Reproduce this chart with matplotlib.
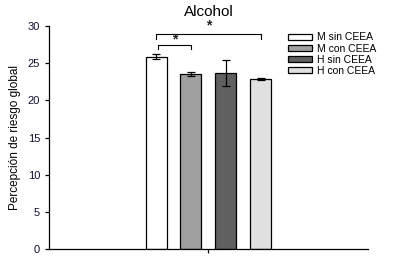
import matplotlib
matplotlib.use('Agg')
import matplotlib.pyplot as plt

plt.rcParams['font.family'] = ['Liberation Sans', 'DejaVu Sans']

# data
groups = ['M sin CEEA', 'M con CEEA', 'H sin CEEA', 'H con CEEA']
means = [25.9, 23.6, 23.7, 22.9]
errors = [0.4, 0.27, 1.75, 0.15]
colors = ['#ffffff', '#a0a0a0', '#606060', '#e0e0e0']

fig = plt.figure(figsize=(3.93, 2.63), dpi=100)
ax = fig.add_axes([0.1247, 0.053, 0.8115, 0.848])

xpos = range(len(groups))
bars = ax.bar(xpos, means, width=0.6, color=colors, edgecolor='black', linewidth=0.9,
              yerr=errors, capsize=3, error_kw=dict(elinewidth=0.9, capthick=0.9, ecolor='black'),
              label=groups)

ax.set_xlim(-3.06, 6.06)
ax.set_ylim(0, 30)
ax.set_yticks([0, 5, 10, 15, 20, 25, 30])
ax.set_xticks([1.5])
ax.set_xticklabels([''])
ax.tick_params(axis='both', direction='out', length=3, width=0.9, labelsize=8, colors='black')
ax.tick_params(axis='y', labelcolor='#101030')
for s in ['top', 'right']:
    ax.spines[s].set_visible(False)
for s in ['left', 'bottom']:
    ax.spines[s].set_linewidth(0.9)

ax.set_ylabel('Percepción de riesgo global', fontsize=8.5, labelpad=5)
ax.set_title('Alcohol', fontsize=11, pad=7)

# significance brackets
def bracket(x1, x2, y, leg, star_y):
    ax.plot([x1, x1, x2, x2], [y - leg, y, y, y - leg], color='black', lw=0.8, clip_on=False)
    ax.text((x1 + x2) / 2, star_y, '*', ha='center', va='center', fontsize=10,
            fontweight='bold', color='#202020', clip_on=False)

bracket(0, 3, 28.9, 0.6, 30.1)
bracket(0.05, 1.0, 27.45, 0.6, 28.2)

leg = fig.legend(handles=bars.patches, labels=groups, loc='upper left',
                 bbox_to_anchor=(0.715, 0.905), frameon=False, fontsize=7.5,
                 handlelength=2.3, handleheight=0.5, labelspacing=0.12,
                 handletextpad=0.5, borderpad=0.2)

fig.savefig('out.png', dpi=100)
